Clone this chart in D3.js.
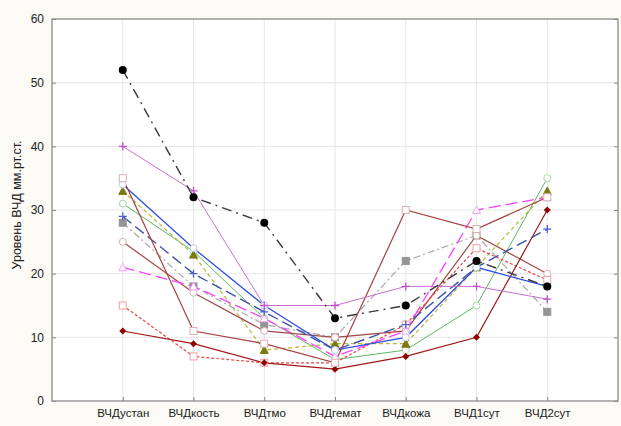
<!DOCTYPE html>
<html>
<head>
<meta charset="utf-8">
<script src="https://cdn.jsdelivr.net/npm/d3@7"></script>
<style>
  html, body { margin: 0; padding: 0; background: #fbfaf4; }
  svg { display: block; }
  text { font-family: "Liberation Sans", Arial, sans-serif; fill: #222; }
</style>
</head>
<body>
<svg id="chart" width="621" height="426"></svg>
<script>
// Categories (measurement stages)
const categories = ["ВЧДустан", "ВЧДкость", "ВЧДтмо", "ВЧДгемат", "ВЧДкожа", "ВЧД1сут", "ВЧД2сут"];
const yTicks = [0, 10, 20, 30, 40, 50, 60];
const yLabel = "Уровень ВЧД мм.рт.ст.";

// One series per patient
const sBlack    = [52, 32, 28, 13, 15, 22, 18];
const sOrchid   = [40, 33, 15, 15, 18, 18, 16];
const sBrownSq  = [35, 11, 9, 6, 30, 27, 32];
const sBlue     = [34, 24, 15, 8, 10, 21, 18];
const sOlive    = [33, 23, 8, 9, 9, 21, 33];
const sGreen    = [31, 23.5, 13, 6.5, 8, 15, 35];
const sNavy     = [29, 20, 14, 8, 12, 21, 27];
const sGray     = [28, 18, 12, 10, 22, 26, 14];
const sBrownCi  = [25, 17, 11, 10, 11, 26, 20];
const sMagenta  = [21, 18, 13, 7, 11, 30, 32];
const sRed      = [15, 7, 6, 6, 12, 24, 19];
const sDarkRed  = [11, 9, 6, 5, 7, 10, 30];

const series = [
  { values: sGreen,   color: "#5cb85c", dash: null,          width: 1,   marker: "circle",  fill: "#fff",    stroke: "#a8d8a8" },
  { values: sOlive,   color: "#b5b838", dash: "4,3",         width: 1.2, marker: "triangle",fill: "#7a7a10", stroke: "#7a7a10" },
  { values: sGray,    color: "#a8a8a8", dash: "7,3,2,3",     width: 1.2, marker: "square",  fill: "#959595", stroke: "#959595" },
  { values: sBrownCi, color: "#a04848", dash: null,          width: 1.2, marker: "circle",  fill: "#fff",    stroke: "#d8b0b0" },
  { values: sRed,     color: "#e84848", dash: "3,2",         width: 1.2, marker: "square",  fill: "#fff",    stroke: "#eea0a0" },
  { values: sDarkRed, color: "#a01818", dash: null,          width: 1.2, marker: "diamond", fill: "#900000", stroke: "#900000" },
  { values: sMagenta, color: "#ff40ff", dash: "12,5",        width: 1.3, marker: "triangle",fill: "#fff",    stroke: "#ffa0ff" },
  { values: sNavy,    color: "#3d55a8", dash: "11,5",        width: 1.4, marker: "plus",    fill: "none",    stroke: "#4a60d0" },
  { values: sBlue,    color: "#2f4fe0", dash: null,          width: 1.3, marker: "circle",  fill: "#fff",    stroke: "#b8c4ec" },
  { values: sBrownSq, color: "#a84040", dash: null,          width: 1.2, marker: "square",  fill: "#fff",    stroke: "#d8b0b0" },
  { values: sOrchid,  color: "#c870d0", dash: null,          width: 1,   marker: "plus",    fill: "none",    stroke: "#c050c8" },
  { values: sBlack,   color: "#3a3a3a", dash: "10,5,2,5",    width: 1.4, marker: "dot",     fill: "#000",    stroke: "#000" }
];

const svg = d3.select("#chart");
const plotL = 52, plotR = 618, plotT = 19, plotB = 401;

// Plot area background
svg.append("rect").attr("x", plotL).attr("y", plotT)
  .attr("width", plotR - plotL).attr("height", plotB - plotT).attr("fill", "#fff");

const x = d3.scalePoint().domain(categories).range([plotL, plotR]).padding(1);
const y = d3.scaleLinear().domain([0, 60]).range([plotB, plotT]);

// Grid
svg.append("g").selectAll("line").data(yTicks.slice(1, -1)).join("line")
  .attr("x1", plotL).attr("x2", plotR)
  .attr("y1", d => y(d)).attr("y2", d => y(d))
  .attr("stroke", "#e6e6e6").attr("stroke-width", 1);
svg.append("g").selectAll("line").data(categories).join("line")
  .attr("x1", d => x(d)).attr("x2", d => x(d))
  .attr("y1", plotT).attr("y2", plotB)
  .attr("stroke", "#e6e6e6").attr("stroke-width", 1);

// Axes
const yAxis = svg.append("g").attr("transform", `translate(${plotL},0)`)
  .call(d3.axisLeft(y).tickValues(yTicks).tickSize(-4).tickPadding(8));
yAxis.select(".domain").remove();
yAxis.selectAll(".tick line").attr("stroke", "#888");
yAxis.selectAll("text").attr("font-size", 12).attr("fill", "#333");

const yAxisR = svg.append("g").attr("transform", `translate(${plotR},0)`)
  .call(d3.axisRight(y).tickValues(yTicks).tickSize(-4).tickFormat(""));
yAxisR.select(".domain").remove();
yAxisR.selectAll(".tick line").attr("stroke", "#888");

const xAxis = svg.append("g").attr("transform", `translate(0,${plotB})`)
  .call(d3.axisBottom(x).tickSize(-4).tickPadding(8));
xAxis.select(".domain").remove();
xAxis.selectAll(".tick line").attr("stroke", "#888");
xAxis.selectAll("text").attr("font-size", 11.5).attr("fill", "#333");

// Frame
svg.append("rect").attr("x", plotL).attr("y", plotT)
  .attr("width", plotR - plotL).attr("height", plotB - plotT)
  .attr("fill", "none").attr("stroke", "#8a8a8a").attr("stroke-width", 1.3);

// Y label
svg.append("text")
  .attr("transform", `translate(21,205) rotate(-90)`)
  .attr("text-anchor", "middle").attr("font-size", 12.5).attr("fill", "#333")
  .text(yLabel);

// Lines
const line = d3.line().x((d, i) => x(categories[i])).y(d => y(d));
const gLines = svg.append("g");
series.forEach(s => {
  gLines.append("path").datum(s.values)
    .attr("d", line).attr("fill", "none")
    .attr("stroke", s.color).attr("stroke-width", s.width)
    .attr("stroke-dasharray", s.dash);
});

// Markers
const gMarks = svg.append("g");
series.forEach(s => {
  s.values.forEach((v, i) => {
    const cx = x(categories[i]), cy = y(v);
    if (s.marker === "circle") {
      gMarks.append("circle").attr("cx", cx).attr("cy", cy).attr("r", 3.5)
        .attr("fill", s.fill).attr("stroke", s.stroke).attr("stroke-width", 1);
    } else if (s.marker === "dot") {
      gMarks.append("circle").attr("cx", cx).attr("cy", cy).attr("r", 4)
        .attr("fill", s.fill);
    } else if (s.marker === "square") {
      gMarks.append("rect").attr("x", cx - 3.5).attr("y", cy - 3.5)
        .attr("width", 7).attr("height", 7)
        .attr("fill", s.fill).attr("stroke", s.stroke).attr("stroke-width", 1);
    } else if (s.marker === "triangle") {
      gMarks.append("path").attr("transform", `translate(${cx},${cy})`)
        .attr("d", "M0,-4L4,3.5L-4,3.5Z")
        .attr("fill", s.fill).attr("stroke", s.stroke).attr("stroke-width", 1);
    } else if (s.marker === "diamond") {
      gMarks.append("path").attr("transform", `translate(${cx},${cy})`)
        .attr("d", "M0,-3.5L3.5,0L0,3.5L-3.5,0Z")
        .attr("fill", s.fill);
    } else if (s.marker === "plus") {
      gMarks.append("path").attr("transform", `translate(${cx},${cy})`)
        .attr("d", "M-4,0H4M0,-4V4")
        .attr("stroke", s.stroke).attr("stroke-width", 1.3);
    }
  });
});
</script>
</body>
</html>
